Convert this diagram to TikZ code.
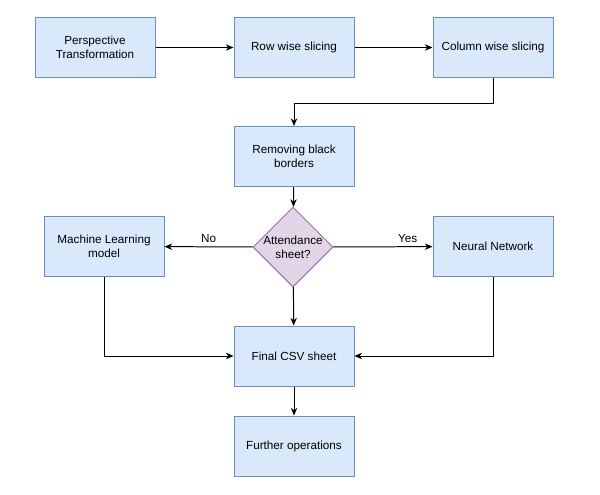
\documentclass[tikz,border=0pt]{standalone}
\usepackage{fontspec}
\setmainfont{Liberation Sans}
\usetikzlibrary{shapes.geometric,arrows.meta}
\definecolor{boxfill}{HTML}{DAE8FC}
\definecolor{boxline}{HTML}{6C8EBF}
\definecolor{askfill}{HTML}{E1D5E7}
\definecolor{askline}{HTML}{9673A6}
\begin{document}
\begin{tikzpicture}[x=0.03cm,y=-0.03cm,
    font=\fontsize{10}{12}\selectfont,
    step box/.style={draw=boxline,fill=boxfill,line width=0.85pt,minimum width=3.6cm,minimum height=1.8cm,align=center},
    ask/.style={draw=askline,fill=askfill,line width=0.85pt,diamond,minimum width=2.4cm,minimum height=2.4cm,inner sep=0pt},
    flow/.style={-{Stealth[length=6.5pt,width=5.5pt,inset=2pt]},line width=0.85pt}]
    \useasboundingbox (0,0) rectangle (600,494);
    \node[step box] (persp) at (95,47.5)    {Perspective\\Transformation};
    \node[step box] (rows) at (294,47.5)    {Row wise slicing};
    \node[step box] (cols) at (493,47.5)    {Column wise slicing};
    \node[step box] (borders) at (294,156.5) {Removing black\\borders};
    \node[ask,label={[align=center]center:Attendance\\sheet?}] (attend) at (293,247) {};
    \node[step box] (ml) at (104,246.5)     {Machine Learning\\model};
    \node[step box] (nn) at (493,246.5)     {Neural Network};
    \node[step box] (csv) at (294,356)      {Final CSV sheet};
    \node[step box] (further) at (294,446)  {Further operations};

    \draw[flow] (persp) -- (rows);
    \draw[flow] (rows) -- (cols);
    \draw[flow] (cols.south) -- ++(0,25) -| (borders.north);
    \draw[flow] (borders) -- (attend);
    \draw[flow] (attend) -- node[above] {No} (ml);
    \draw[flow] (attend) -- node[above,pos=0.75] {Yes} (nn);
    \draw[flow] (attend) -- (csv);
    \draw[flow] (ml) |- (csv);
    \draw[flow] (nn) |- (csv);
    \draw[flow] (csv) -- (further);
  \end{tikzpicture}
\end{document}
